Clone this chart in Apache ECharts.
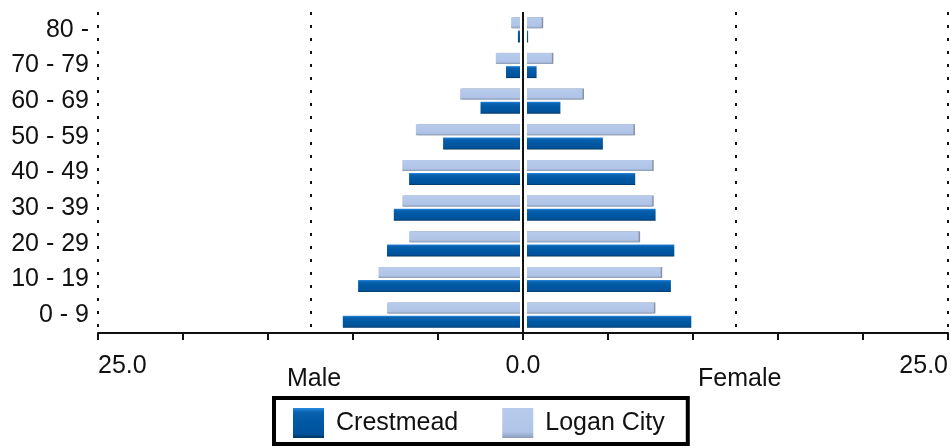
<!DOCTYPE html>
<html>
<head>
<meta charset="utf-8">
<script src="https://cdn.jsdelivr.net/npm/echarts@6/dist/echarts.min.js"></script>
<style>
  html, body { margin: 0; padding: 0; background: #fff; }
  #chart { width: 951px; height: 448px; }
</style>
</head>
<body>
<div id="chart"></div>
<script>
// ---- data (percent of population) ----
const categories = ['0 - 9', '10 - 19', '20 - 29', '30 - 39', '40 - 49', '50 - 59', '60 - 69', '70 - 79', '80 -'];
const crestmeadMale   = [10.6, 9.7, 8.0, 7.6, 6.7, 4.7, 2.5, 1.0, 0.3];
const crestmeadFemale = [9.9, 8.7, 8.9, 7.8, 6.6, 4.7, 2.2, 0.8, 0.3];
const loganMale       = [8.0, 8.5, 6.7, 7.1, 7.1, 6.3, 3.7, 1.6, 0.7];
const loganFemale     = [7.7, 8.1, 6.8, 7.6, 7.6, 6.5, 3.5, 1.7, 1.1];
const seriesNames = ['Crestmead', 'Logan City'];
const sideNames = ['Male', 'Female'];
const axisMin = -25, axisMax = 25;

const FONT = 'Liberation Sans, Arial, sans-serif';
const TXT = '#111';
const FS = 25;

const darkFill = new echarts.graphic.LinearGradient(0, 0, 0, 1, [
  { offset: 0, color: '#2a8be3' },
  { offset: 0.14, color: '#0a62b0' },
  { offset: 0.5, color: '#0058a3' },
  { offset: 0.86, color: '#00529a' },
  { offset: 1, color: '#00335f' }
]);
const lightFill = new echarts.graphic.LinearGradient(0, 0, 0, 1, [
  { offset: 0, color: '#b8cbec' },
  { offset: 0.8, color: '#afc4e7' },
  { offset: 1, color: '#8e9db6' }
]);

const neg = arr => arr.map(v => -v);

function barSeries(name, data, stack, fill, width, extra) {
  return Object.assign({
    name: name,
    type: 'bar',
    stack: stack,
    data: data,
    barWidth: width,
    barGap: '20%',
    itemStyle: { color: fill },
    emphasis: { disabled: true },
    animation: false
  }, extra || {});
}

const lightShadow = { itemStyle: { color: lightFill, shadowColor: 'rgba(110,120,140,0.8)', shadowOffsetX: 1.5, shadowOffsetY: 0, shadowBlur: 0 } };

const chart = echarts.init(document.getElementById('chart'), null, { renderer: 'canvas' });
chart.setOption({
  animation: false,
  backgroundColor: '#fff',
  textStyle: { fontFamily: FONT },
  grid: { left: 98, right: 3, top: 12, bottom: 115, containLabel: false },
  xAxis: [
    {
      type: 'value', min: axisMin, max: axisMax, interval: 5, position: 'bottom', z: 10,
      axisLine: { show: true, onZero: false, lineStyle: { color: '#111', width: 2 } },
      axisTick: { show: true, length: 7, lineStyle: { color: '#111', width: 2 } },
      axisLabel: {
        color: TXT, fontSize: FS, fontFamily: FONT, margin: 21,
        alignMinLabel: 'left', alignMaxLabel: 'right',
        formatter: v => (v === axisMin || v === 0 || v === axisMax) ? Math.abs(v).toFixed(1) : ''
      },
      splitLine: { show: false }
    },
    {
      type: 'value', min: axisMin, max: axisMax, interval: 12.5, position: 'bottom',
      axisLine: { show: false }, axisTick: { show: false }, axisLabel: { show: false },
      splitLine: { show: true, lineStyle: { color: '#111', width: 2, type: [3, 10] } }
    }
  ],
  yAxis: {
    type: 'category', data: categories,
    axisLine: { show: false }, axisTick: { show: false },
    axisLabel: { color: TXT, fontSize: FS, fontFamily: FONT, margin: 9 },
    splitLine: { show: false }
  },
  legend: {
    data: seriesNames,
    left: 274, top: 398,
    orient: 'horizontal',
    padding: [10, 23, 6, 19],
    borderColor: '#000', borderWidth: 4,
    itemWidth: 31, itemHeight: 30, itemGap: 44,
    icon: 'rect',
    textStyle: { color: TXT, fontSize: FS, fontFamily: FONT, padding: [0, 0, 0, 7] },
    selectedMode: false
  },
  graphic: [
    { type: 'text', left: 287, top: 367, style: { text: sideNames[0], fill: TXT, font: FS + 'px ' + FONT } },
    { type: 'text', left: 698, top: 367, style: { text: sideNames[1], fill: TXT, font: FS + 'px ' + FONT } }
  ],
  series: [
    barSeries(seriesNames[1], neg(loganMale), 'logan', lightFill, 11, lightShadow),
    barSeries(seriesNames[1], loganFemale, 'logan', lightFill, 11, lightShadow),
    barSeries(seriesNames[0], neg(crestmeadMale), 'crest', darkFill, 12),
    barSeries(seriesNames[0], crestmeadFemale, 'crest', darkFill, 12, {
      markLine: {
        silent: true, symbol: 'none', animation: false,
        label: { show: false },
        data: [
          { xAxis: 0, lineStyle: { color: '#ffffff', width: 7, type: 'solid' } },
          { xAxis: 0, lineStyle: { color: '#111111', width: 2, type: 'solid' } }
        ]
      }
    })
  ]
});
</script>
</body>
</html>
